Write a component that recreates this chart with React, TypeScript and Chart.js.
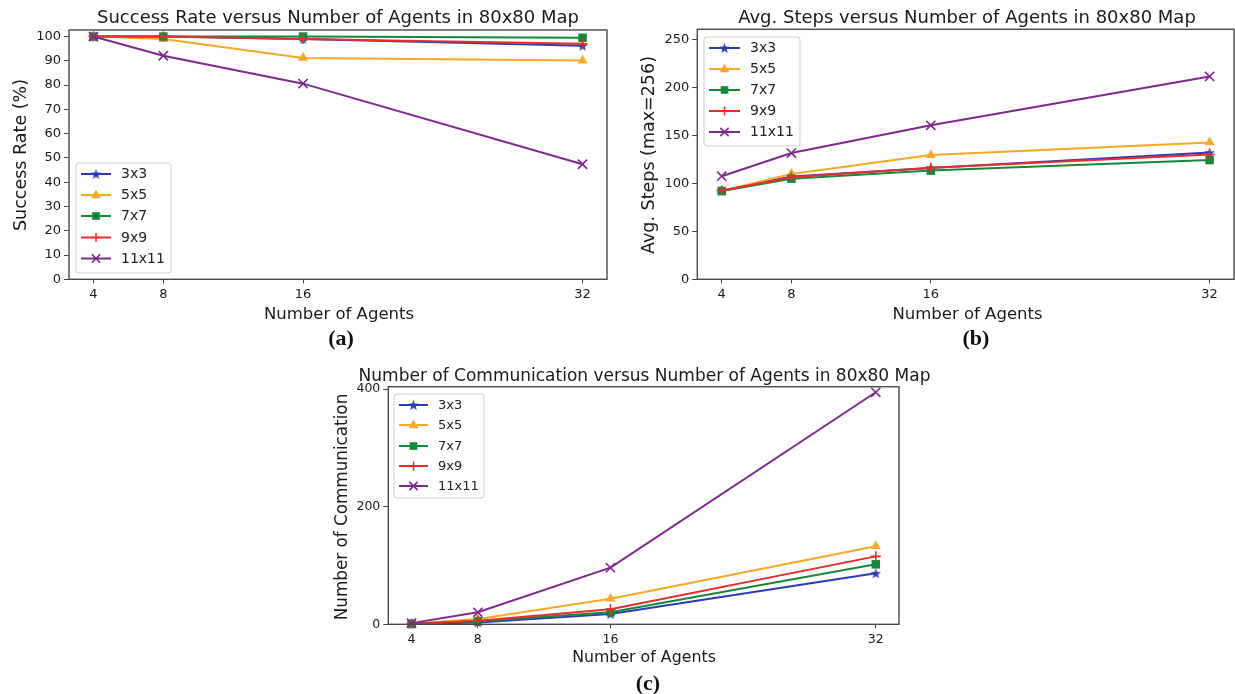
import React, { useEffect, useRef } from 'react';
import { Chart, registerables } from 'chart.js';

Chart.register(...registerables);

// ---------- data ----------
const agents = [4, 8, 16, 32];
const seriesNames = ['3x3', '5x5', '7x7', '9x9', '11x11'];

const success3x3 = [100, 100, 99, 96.2];
const success5x5 = [100, 99, 91.2, 90.1];
const success7x7 = [100, 100, 100, 99.5];
const success9x9 = [100, 100, 99, 97];
const success11x11 = [100, 92.1, 80.6, 47.4];

const steps3x3 = [92, 107, 116, 132];
const steps5x5 = [92, 109.8, 129.4, 142.6];
const steps7x7 = [92, 104.8, 113.2, 124.2];
const steps9x9 = [92.5, 106.2, 116.3, 130];
const steps11x11 = [107.4, 131.5, 160.4, 211.3];

const comm3x3 = [0.5, 3, 17.6, 86.8];
const comm5x5 = [1, 9, 43.5, 132.8];
const comm7x7 = [1, 5, 20.4, 102];
const comm9x9 = [1, 6, 25.5, 115.5];
const comm11x11 = [2, 20.4, 96.3, 394.5];

const xTickValues = [4, 8, 16, 32];
const successTicks = [0, 10, 20, 30, 40, 50, 60, 70, 80, 90, 100];
const stepsTicks = [0, 50, 100, 150, 200, 250];
const commTicks = [0, 200, 400];

// ---------- styles ----------
const W = 1235;
const H = 694;
const Y_AXIS_W = 60;
const X_AXIS_H = 30;
const FONT = "'DejaVu Sans', 'Liberation Sans', sans-serif";
const colors = ['#2b3cb4', '#f9a825', '#138a38', '#ee2b2b', '#80288e'];
const markerKinds = ['star', 'triangle', 'rect', 'cross', 'crossRot'];
const markerRadius = [5.5, 5.8, 6, 5, 6.5];

function makeStar(color: string, r: number): HTMLCanvasElement {
  const size = Math.ceil(r * 2 + 2);
  const c = document.createElement('canvas');
  c.width = size;
  c.height = size;
  const ctx = c.getContext('2d')!;
  const cx = size / 2;
  const cy = size / 2 + 0.5;
  ctx.beginPath();
  for (let i = 0; i < 10; i++) {
    const rad = i % 2 === 0 ? r : r * 0.42;
    const a = -Math.PI / 2 + (i * Math.PI) / 5;
    const x = cx + rad * Math.cos(a);
    const y = cy + rad * Math.sin(a);
    if (i === 0) ctx.moveTo(x, y);
    else ctx.lineTo(x, y);
  }
  ctx.closePath();
  ctx.fillStyle = color;
  ctx.fill();
  return c;
}

function drawMarker(ctx: CanvasRenderingContext2D, kind: string, x: number, y: number, r: number, color: string, star: HTMLCanvasElement) {
  ctx.save();
  ctx.fillStyle = color;
  ctx.strokeStyle = color;
  ctx.lineWidth = 1.5;
  if (kind === 'star') {
    ctx.drawImage(star, x - star.width / 2, y - star.height / 2);
  } else if (kind === 'triangle') {
    ctx.beginPath();
    ctx.moveTo(x, y - r);
    ctx.lineTo(x + r * 0.95, y + r * 0.6);
    ctx.lineTo(x - r * 0.95, y + r * 0.6);
    ctx.closePath();
    ctx.fill();
  } else if (kind === 'rect') {
    const s = r * Math.SQRT1_2;
    ctx.fillRect(x - s, y - s, 2 * s, 2 * s);
  } else if (kind === 'cross') {
    ctx.beginPath();
    ctx.moveTo(x - r, y);
    ctx.lineTo(x + r, y);
    ctx.moveTo(x, y - r);
    ctx.lineTo(x, y + r);
    ctx.stroke();
  } else {
    const s = r * Math.SQRT1_2;
    ctx.beginPath();
    ctx.moveTo(x - s, y - s);
    ctx.lineTo(x + s, y + s);
    ctx.moveTo(x - s, y + s);
    ctx.lineTo(x + s, y - s);
    ctx.stroke();
  }
  ctx.restore();
}

type Panel = {
  series: number[][];
  yMax: number;
  yTicks: number[];
  area: { l: number; t: number; r: number; b: number };
  tickSize: number;
  title: string;
  titleX: number;
  titleY: number;
  titleSize: number;
  xLabel: string;
  xLabelX: number;
  xLabelY: number;
  xLabelSize: number;
  yLabel: string;
  yLabelX: number;
  yLabelY: number;
  yLabelSize: number;
  legend: { x0: number; y0: number; x1: number; y1: number; rows: number[]; hx0: number; hx1: number; tx: number; size: number };
};

const panels: Panel[] = [
  {
    series: [success3x3, success5x5, success7x7, success9x9, success11x11],
    yMax: 102.7,
    yTicks: successTicks,
    area: { l: 69, t: 30, r: 607, b: 279.3 },
    tickSize: 13,
    title: 'Success Rate versus Number of Agents in 80x80 Map',
    titleX: 338, titleY: 23, titleSize: 18,
    xLabel: 'Number of Agents', xLabelX: 339, xLabelY: 319, xLabelSize: 16.5,
    yLabel: 'Success Rate (%)', yLabelX: 21, yLabelY: 155, yLabelSize: 17.5,
    legend: { x0: 76, y0: 163, x1: 171, y1: 273, rows: [174, 195, 216, 237.5, 258.5], hx0: 81, hx1: 111, tx: 121, size: 14 },
  },
  {
    series: [steps3x3, steps5x5, steps7x7, steps9x9, steps11x11],
    yMax: 260.4,
    yTicks: stepsTicks,
    area: { l: 697.3, t: 29.3, r: 1234, b: 279.3 },
    tickSize: 13,
    title: 'Avg. Steps versus Number of Agents in 80x80 Map',
    titleX: 967, titleY: 23, titleSize: 18,
    xLabel: 'Number of Agents', xLabelX: 967.5, xLabelY: 319, xLabelSize: 16.5,
    yLabel: 'Avg. Steps (max=256)', yLabelX: 649, yLabelY: 155, yLabelSize: 17.5,
    legend: { x0: 704, y0: 37, x1: 800, y1: 146, rows: [48, 69, 90, 111, 132], hx0: 709, hx1: 740, tx: 750, size: 14 },
  },
  {
    series: [comm3x3, comm5x5, comm7x7, comm9x9, comm11x11],
    yMax: 404,
    yTicks: commTicks,
    area: { l: 388.3, t: 386.7, r: 899, b: 624.3 },
    tickSize: 12.5,
    title: 'Number of Communication versus Number of Agents in 80x80 Map',
    titleX: 644.5, titleY: 381, titleSize: 17,
    xLabel: 'Number of Agents', xLabelX: 644, xLabelY: 662, xLabelSize: 15.8,
    yLabel: 'Number of Communication', yLabelX: 343, yLabelY: 507, yLabelSize: 16.8,
    legend: { x0: 394, y0: 394, x1: 484, y1: 498, rows: [405, 425, 446, 466, 486], hx0: 399, hx1: 428, tx: 438, size: 13 },
  },
];

function roundRect(ctx: CanvasRenderingContext2D, x0: number, y0: number, x1: number, y1: number, r: number) {
  ctx.beginPath();
  ctx.moveTo(x0 + r, y0);
  ctx.lineTo(x1 - r, y0);
  ctx.arcTo(x1, y0, x1, y0 + r, r);
  ctx.lineTo(x1, y1 - r);
  ctx.arcTo(x1, y1, x1 - r, y1, r);
  ctx.lineTo(x0 + r, y1);
  ctx.arcTo(x0, y1, x0, y1 - r, r);
  ctx.lineTo(x0, y0 + r);
  ctx.arcTo(x0, y0, x0 + r, y0, r);
  ctx.closePath();
}

function buildChart(canvas: HTMLCanvasElement, p: Panel) {
  const stars = colors.map((c, i) => makeStar(c, markerRadius[i]));

  const decorPlugin = {
    id: 'decor',
    afterDraw(chart: any) {
      const ctx: CanvasRenderingContext2D = chart.ctx;
      const a = chart.chartArea;
      // frame (all four spines)
      ctx.save();
      ctx.strokeStyle = '#4a4a4a';
      ctx.lineWidth = 1.4;
      ctx.strokeRect(a.left, a.top, a.right - a.left, a.bottom - a.top);
      ctx.restore();

      // legend
      const lg = p.legend;
      ctx.save();
      roundRect(ctx, lg.x0, lg.y0, lg.x1, lg.y1, 3);
      ctx.fillStyle = 'rgba(255,255,255,0.85)';
      ctx.fill();
      ctx.strokeStyle = '#cfcfcf';
      ctx.lineWidth = 1;
      ctx.stroke();
      seriesNames.forEach((name, i) => {
        const y = lg.rows[i];
        ctx.strokeStyle = colors[i];
        ctx.lineWidth = 2;
        ctx.beginPath();
        ctx.moveTo(lg.hx0, y);
        ctx.lineTo(lg.hx1, y);
        ctx.stroke();
        drawMarker(ctx, markerKinds[i], (lg.hx0 + lg.hx1) / 2, y, markerRadius[i] * 0.9, colors[i], stars[i]);
        ctx.fillStyle = '#222';
        ctx.font = `${p.legend.size}px ${FONT}`;
        ctx.textAlign = 'left';
        ctx.textBaseline = 'middle';
        ctx.fillText(name, lg.tx, y + 0.5);
      });
      ctx.restore();

      // texts
      ctx.save();
      ctx.fillStyle = '#1a1a1a';
      ctx.textAlign = 'center';
      ctx.textBaseline = 'alphabetic';
      ctx.font = `${p.titleSize}px ${FONT}`;
      ctx.fillText(p.title, p.titleX, p.titleY);
      ctx.font = `${p.xLabelSize}px ${FONT}`;
      ctx.fillText(p.xLabel, p.xLabelX, p.xLabelY);
      ctx.translate(p.yLabelX, p.yLabelY);
      ctx.rotate(-Math.PI / 2);
      ctx.textBaseline = 'middle';
      ctx.font = `${p.yLabelSize}px ${FONT}`;
      ctx.fillText(p.yLabel, 0, 0);
      ctx.restore();
    },
  };

  const datasets = p.series.map((vals, i) => ({
    label: seriesNames[i],
    data: agents.map((a, j) => ({ x: a, y: vals[j] })),
    borderColor: colors[i],
    backgroundColor: colors[i],
    borderWidth: 2,
    pointStyle: markerKinds[i] === 'star' ? stars[i] : markerKinds[i],
    pointRadius: markerRadius[i],
    pointBorderWidth: markerKinds[i] === 'cross' || markerKinds[i] === 'crossRot' ? 1.6 : 0,
    pointBackgroundColor: colors[i],
    pointBorderColor: colors[i],
    tension: 0,
    clip: false,
    order: 4 - i,
  }));

  const tickFont = { family: FONT, size: p.tickSize };

  return new Chart(canvas, {
    type: 'line',
    data: { datasets } as any,
    options: {
      responsive: false,
      animation: false,
      devicePixelRatio: 1,
      events: [],
      layout: {
        autoPadding: false,
        padding: {
          left: p.area.l - Y_AXIS_W,
          top: p.area.t,
          right: W - p.area.r,
          bottom: H - p.area.b - X_AXIS_H,
        },
      },
      plugins: { legend: { display: false }, tooltip: { enabled: false }, title: { display: false } },
      scales: {
        x: {
          type: 'linear',
          min: 2.6,
          max: 33.4,
          afterFit: (s: any) => {
            s.height = X_AXIS_H;
            s.paddingLeft = 0;
            s.paddingRight = 0;
          },
          afterBuildTicks: (s: any) => { s.ticks = xTickValues.map((v) => ({ value: v })); },
          grid: { display: true, drawOnChartArea: false, drawTicks: true, tickLength: 4, color: '#444', lineWidth: 1 },
          border: { display: false },
          ticks: { font: tickFont, color: '#1a1a1a', padding: 3.5, maxRotation: 0, autoSkip: false, callback: (v: any) => String(v) },
        },
        y: {
          type: 'linear',
          min: 0,
          max: p.yMax,
          afterFit: (s: any) => {
            s.width = Y_AXIS_W;
            s.paddingTop = 0;
            s.paddingBottom = 0;
          },
          afterBuildTicks: (s: any) => { s.ticks = p.yTicks.map((v) => ({ value: v })); },
          grid: { display: true, drawOnChartArea: false, drawTicks: true, tickLength: 5, color: '#444', lineWidth: 1 },
          border: { display: false },
          ticks: { font: tickFont, color: '#1a1a1a', padding: 3, autoSkip: false, callback: (v: any) => String(v) },
        },
      },
    } as any,
    plugins: [decorPlugin],
  });
}

function PanelChart({ panel }: { panel: Panel }) {
  const ref = useRef<HTMLCanvasElement>(null);
  useEffect(() => {
    const chart = buildChart(ref.current!, panel);
    return () => chart.destroy();
  }, [panel]);
  return (
    <canvas
      ref={ref}
      width={W}
      height={H}
      style={{ position: 'absolute', left: 0, top: 0, width: W, height: H }}
    />
  );
}

const captions = [
  { text: '(a)', x: 341, y: 338 },
  { text: '(b)', x: 976, y: 338 },
  { text: '(c)', x: 648, y: 683 },
];

export default function App() {
  return (
    <div style={{ position: 'fixed', left: 0, top: 0, width: W, height: H, background: '#ffffff', overflow: 'hidden' }}>
      {panels.map((p, i) => (
        <PanelChart key={i} panel={p} />
      ))}
      {captions.map((c) => (
        <div
          key={c.text}
          style={{
            position: 'absolute',
            left: c.x - 30,
            top: c.y - 14,
            width: 60,
            height: 28,
            lineHeight: '28px',
            textAlign: 'center',
            fontFamily: "'Liberation Serif', 'DejaVu Serif', serif",
            fontWeight: 'bold',
            fontSize: 22,
            color: '#111',
          }}
        >
          {c.text}
        </div>
      ))}
    </div>
  );
}
